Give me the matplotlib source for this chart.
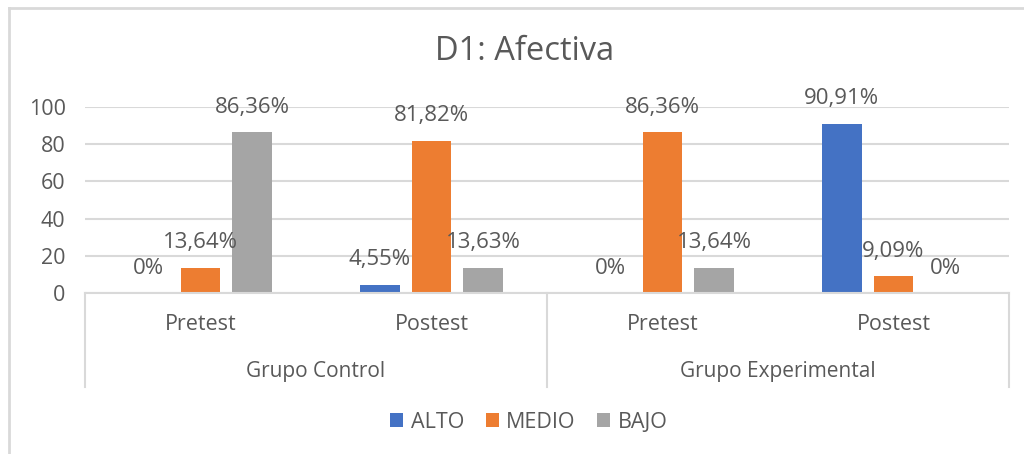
import matplotlib
matplotlib.use("Agg")
import matplotlib.pyplot as plt
from matplotlib.lines import Line2D
from matplotlib.patches import Patch
import numpy as np

plt.rcParams['font.family'] = ['Open Sans', 'DejaVu Sans']

title = "D1: Afectiva"
groups = ["Grupo Control", "Grupo Experimental"]
phases = ["Pretest", "Postest", "Pretest", "Postest"]
series_names = ["ALTO", "MEDIO", "BAJO"]
alto = [0, 4.55, 0, 90.91]
medio = [13.64, 81.82, 86.36, 9.09]
bajo = [86.36, 13.63, 13.64, 0]
alto_labels = ["0%", "4,55%", "0%", "90,91%"]
medio_labels = ["13,64%", "81,82%", "86,36%", "9,09%"]
bajo_labels = ["86,36%", "13,63%", "13,64%", "0%"]
yticks = [0, 20, 40, 60, 80, 100]

colors = ["#4472C4", "#ED7D31", "#A5A5A5"]
text_color = "#595959"
grid_color = "#D9D9D9"

W, H = 1024, 454
fig = plt.figure(figsize=(W / 100, H / 100), dpi=100)
x0, x1 = 85, 1009
y0, y1 = 293, 107
ax = fig.add_axes([x0 / W, (H - y0) / H, (x1 - x0) / W, (y0 - y1) / H])

x = np.arange(len(phases))
bw = 0.173
off = 0.225
all_vals = [alto, medio, bajo]
all_labels = [alto_labels, medio_labels, bajo_labels]
for i, (vals, labs) in enumerate(zip(all_vals, all_labels)):
    xs = x + (i - 1) * off
    ax.bar(xs, vals, width=bw, color=colors[i], zorder=3)
    for xi, v, lab in zip(xs, vals, labs):
        ax.annotate(lab, (xi, v), xytext=(0, 18), textcoords="offset points",
                    ha="center", va="center", fontsize=16, color=text_color,
                    annotation_clip=False, zorder=4)

ax.set_xlim(-0.5, len(phases) - 0.5)
ax.set_ylim(0, 100)
ax.set_yticks(yticks)
ax.set_yticklabels([str(t) for t in yticks], fontsize=15.5, color=text_color)
ax.tick_params(axis="y", length=0, pad=14)
ax.set_xticks([])
ax.grid(axis="y", color=grid_color, linewidth=1.5, zorder=0)
for s in ["top", "right", "left"]:
    ax.spines[s].set_visible(False)
ax.spines["bottom"].set_color(grid_color)
ax.spines["bottom"].set_linewidth(1.5)
ax.spines["bottom"].set_zorder(5)

trans = ax.get_xaxis_transform()
for xi, p in zip(x, phases):
    ax.text(xi, -0.172, p, transform=trans, ha="center", va="center",
            fontsize=15.5, color=text_color)
for gi, g in enumerate(groups):
    ax.text(2 * gi + 0.5, -0.42, g, transform=trans, ha="center", va="center",
            fontsize=15, color=text_color)
for xb in [-0.5, 1.5, 3.5]:
    ax.add_line(Line2D([xb, xb], [0, -0.505], transform=trans, color=grid_color,
                       linewidth=1.5, clip_on=False))

fig.text(525 / W, 1 - 52 / H, title, ha="center", va="center", fontsize=23.5,
         color=text_color)

handles = [Patch(facecolor=c, edgecolor="none") for c in colors]
fig.legend(handles, series_names, loc="center", bbox_to_anchor=(529 / W, 1 - 422 / H),
           ncol=3, frameon=False, fontsize=15.5, labelcolor=text_color,
           handlelength=0.6, handleheight=0.6, handletextpad=0.35, columnspacing=1.0)

fig.add_artist(Line2D([9 / W, 9 / W], [0, 1 - 8 / H], color=grid_color, linewidth=2,
                      transform=fig.transFigure))
fig.add_artist(Line2D([9 / W, 1], [1 - 8 / H, 1 - 8 / H], color=grid_color, linewidth=2,
                      transform=fig.transFigure))

fig.savefig("out.png", dpi=100, facecolor="white")
